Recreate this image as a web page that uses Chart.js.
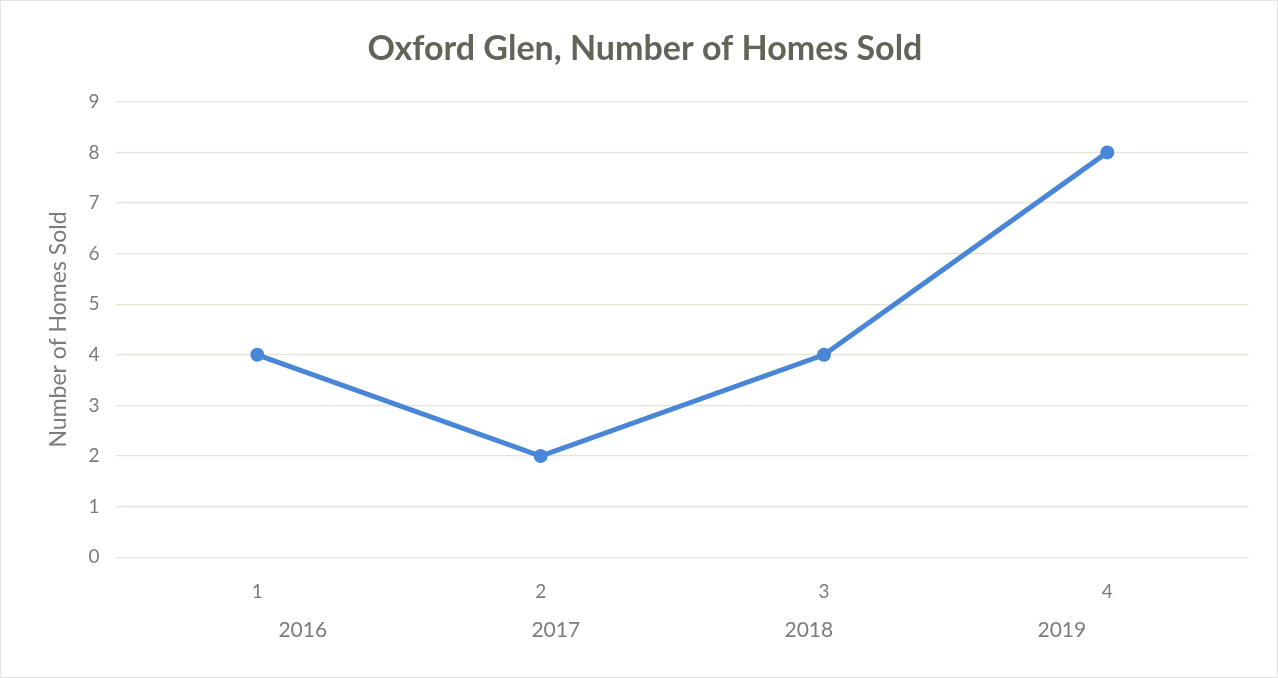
<!DOCTYPE html>
<html>
<head>
<meta charset="utf-8">
<script src="https://cdn.jsdelivr.net/npm/chart.js@4"></script>
<style>
  html, body { margin: 0; padding: 0; background: #ffffff; }
  #wrap { position: relative; width: 1278px; height: 678px; box-sizing: border-box; border: 1px solid #e4e4e0; }
</style>
</head>
<body>
<div id="wrap"><canvas id="soldChart"></canvas></div>
<script>
// ── Data ───────────────────────────────────────────────────
const periods   = ["1", "2", "3", "4"];
const years     = ["2016", "2017", "2018", "2019"];
const homesSold = [4, 2, 4, 8];
const yTicks    = [0, 1, 2, 3, 4, 5, 6, 7, 8, 9];

const FONT      = "Lato, 'Open Sans', sans-serif";
const TEXT_GREY = "#7c7c7c";
const LINE_BLUE = "#4a86d8";

// Second row of category labels (the years), squeezed a bit toward the centre
const yearRow = {
  id: "yearRow",
  afterDraw(chart) {
    const x = chart.scales.x;
    const ctx = chart.ctx;
    const mid = (x.left + x.right) / 2;
    ctx.save();
    ctx.font = "21px " + FONT;
    ctx.fillStyle = TEXT_GREY;
    ctx.textAlign = "center";
    ctx.textBaseline = "middle";
    years.forEach((yr, i) => {
      const px = mid + (x.getPixelForValue(i) - mid) * 0.893;
      ctx.fillText(yr, px, x.top + 73);
    });
    ctx.restore();
  },
};

new Chart(document.getElementById("soldChart").getContext("2d"), {
  type: "line",
  data: {
    labels: periods,
    datasets: [{
      label: "Number of Homes Sold",
      data: homesSold,
      borderColor: LINE_BLUE,
      backgroundColor: LINE_BLUE,
      borderWidth: 5,
      tension: 0,
      pointRadius: 7,
      pointBackgroundColor: LINE_BLUE,
      pointBorderWidth: 0,
    }],
  },
  options: {
    responsive: true,
    maintainAspectRatio: false,
    animation: false,
    layout: { padding: { top: 14, right: 28, bottom: 59, left: 40 } },
    plugins: {
      legend: { display: false },
      tooltip: { enabled: false },
      title: {
        display: true,
        text: "Oxford Glen, Number of Homes Sold",
        color: "#64635a",
        font: { family: FONT, size: 34, weight: "bold" },
        padding: { top: 14, bottom: 32 },
      },
    },
    scales: {
      x: {
        offset: true,
        grid: { display: false },
        border: { display: false },
        ticks: { color: TEXT_GREY, font: { family: FONT, size: 19 }, padding: 15 },
      },
      y: {
        min: yTicks[0],
        max: yTicks[yTicks.length - 1],
        afterBuildTicks: axis => { axis.ticks = yTicks.map(v => ({ value: v })); },
        grid: { color: "#e3e4d8", lineWidth: 1.3, drawTicks: false },
        border: { display: false },
        ticks: { color: TEXT_GREY, font: { family: FONT, size: 19 }, padding: 16 },
        title: {
          display: true,
          text: "Number of Homes Sold",
          color: TEXT_GREY,
          font: { family: FONT, size: 23 },
          padding: { top: 4, bottom: 0 },
        },
      },
    },
  },
  plugins: [yearRow],
});
</script>
</body>
</html>
